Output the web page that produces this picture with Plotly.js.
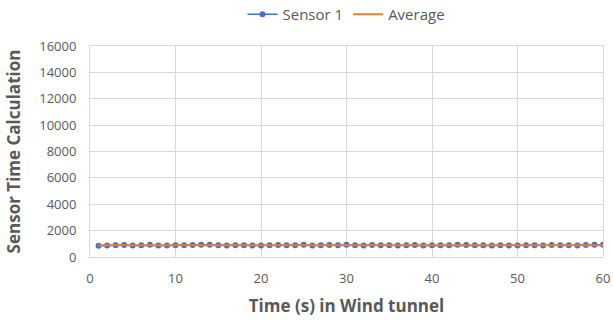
<!DOCTYPE html>
<html><head><meta charset="utf-8">
<script src="https://cdn.plot.ly/plotly-3.0.1.min.js"></script>
<style>body{margin:0;background:#fff}#c{width:613px;height:324px}</style>
</head><body><div id="c"></div>
<script>
const time = Array.from({length:60},(_,i)=>i+1);
const sensor1 = [860,880,900,910,880,890,920,880,870,900,890,910,930,920,900,880,890,900,880,870,900,910,890,900,920,880,900,910,890,920,900,880,910,900,890,880,900,910,880,900,890,900,920,910,900,890,880,900,880,870,890,900,880,910,890,900,880,910,920,930];
const avgVal = 897;
const average = time.map(()=>avgVal);
const xTicks = [0,10,20,30,40,50,60];
const yTicks = [0,2000,4000,6000,8000,10000,12000,14000,16000];

const font = "'Open Sans', 'Liberation Sans', sans-serif";
Plotly.newPlot('c', [
  {x: time, y: sensor1, name: 'Sensor 1', type: 'scatter', mode: 'lines+markers',
   line: {color: '#4472C4', width: 1.5}, marker: {color: '#4472C4', size: 6}},
  {x: time, y: average, name: 'Average', type: 'scatter', mode: 'lines',
   line: {color: '#ED7D31', width: 2}}
], {
  width: 613, height: 324,
  margin: {l: 90, r: 10, t: 46, b: 67},
  paper_bgcolor: '#fff', plot_bgcolor: '#fff',
  font: {family: font, color: '#595959', size: 13},
  showlegend: true,
  legend: {orientation: 'h', x: 0.5, xanchor: 'center', yref: 'container', y: 0.955, yanchor: 'middle',
           font: {size: 15, color: '#595959'}},
  xaxis: {range: [0, 60], tickvals: xTicks, ticktext: xTicks.map(String), showgrid: true, gridcolor: '#d9d9d9',
          zeroline: false, showline: true, linecolor: '#d9d9d9', mirror: true, ticks: '',
          ticklabelstandoff: 9,
          title: {text: '<b>Time (s) in Wind tunnel</b>', font: {size: 17, color: '#595959'}, standoff: 14}},
  yaxis: {range: [0, 16000], tickvals: yTicks, ticktext: yTicks.map(String), showgrid: true, gridcolor: '#d9d9d9',
          zeroline: false, showline: true, linecolor: '#d9d9d9', mirror: true, ticks: '',
          ticklabelstandoff: 10,
          title: {text: '<b>Sensor Time Calculation</b>', font: {size: 17, color: '#595959'}, standoff: 14}}
}, {displayModeBar: false, staticPlot: true});
</script></body></html>
